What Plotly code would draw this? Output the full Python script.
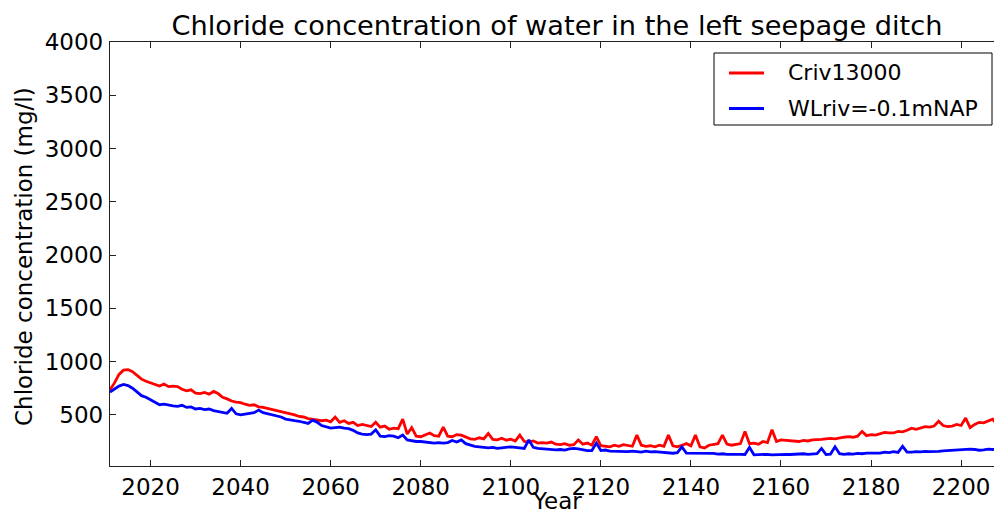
import plotly.graph_objects as go

years = list(range(2011, 2209))

criv13000 = [
    735, 800, 880, 920, 925, 905, 870, 835, 815, 800,   # 2011-2020
    790, 770, 790, 765, 770, 765, 740, 725, 735, 705,   # 2021-2030
    700, 710, 695, 720, 700, 665, 650, 630, 620, 615,   # 2031-2040
    600, 590, 595, 575, 570, 560, 555, 545, 530, 525,   # 2041-2050
    510, 500, 485, 480, 465, 460, 455, 445, 450, 435,   # 2051-2060
    480, 430, 445, 420, 430, 400, 410, 400, 390, 430,   # 2061-2070
    385, 395, 365, 375, 370, 460, 320, 380, 300, 295,   # 2071-2080
    310, 330, 305, 300, 385, 300, 295, 315, 310, 290,   # 2081-2090
    275, 270, 285, 275, 325, 270, 265, 280, 262, 272,   # 2091-2100
    255, 310, 250, 245, 255, 235, 240, 235, 245, 225,   # 2101-2110
    220, 230, 215, 220, 265, 225, 235, 215, 295, 210,   # 2111-2120
    205, 200, 215, 205, 220, 210, 205, 310, 215, 205,   # 2121-2130
    210, 200, 215, 205, 310, 210, 200, 215, 230, 210,   # 2131-2140
    310, 200, 190, 215, 220, 230, 310, 225, 215, 225,   # 2141-2150
    230, 345, 230, 235, 225, 250, 240, 360, 250, 265,   # 2151-2160
    260, 255, 250, 250, 260, 255, 265, 265, 270, 275,   # 2161-2170
    280, 275, 285, 290, 295, 290, 300, 345, 305, 315,   # 2171-2180
    310, 320, 335, 330, 330, 345, 340, 355, 375, 365,   # 2181-2190
    380, 390, 385, 395, 440, 400, 390, 395, 410, 400,   # 2191-2200
    470, 380, 410, 430, 425, 440, 460, 410,             # 2201-2208
]

wlriv = [
    715, 740, 770, 785, 775, 750, 715, 680, 665, 640,   # 2011-2020
    615, 595, 600, 590, 585, 580, 590, 570, 575, 555,   # 2021-2030
    560, 550, 555, 540, 530, 525, 515, 560, 510, 500,   # 2031-2040
    510, 515, 520, 545, 520, 510, 505, 490, 480, 460,   # 2041-2050
    450, 445, 440, 430, 420, 450, 430, 400, 390, 375,   # 2051-2060
    380, 385, 375, 370, 355, 330, 320, 315, 320, 360,   # 2061-2070
    300, 295, 305, 300, 285, 310, 265, 255, 250, 250,   # 2071-2080
    245, 240, 235, 240, 235, 240, 260, 245, 265, 230,   # 2081-2090
    215, 205, 200, 195, 190, 195, 185, 190, 195, 200,   # 2091-2100
    195, 190, 185, 265, 195, 185, 180, 178, 172, 172,   # 2101-2110
    175, 170, 180, 185, 180, 170, 165, 165, 235, 165,   # 2111-2120
    170, 160, 158, 160, 155, 155, 160, 155, 150, 160,   # 2121-2130
    152, 155, 150, 145, 145, 140, 145, 200, 140, 140,   # 2131-2140
    142, 138, 140, 135, 138, 132, 135, 130, 132, 128,   # 2141-2150
    130, 128, 195, 125, 128, 125, 130, 125, 128, 125,   # 2151-2160
    130, 128, 132, 130, 135, 130, 132, 135, 185, 128,   # 2161-2170
    132, 200, 135, 130, 135, 132, 138, 135, 140, 138,   # 2171-2180
    142, 140, 150, 145, 155, 148, 205, 150, 150, 155,   # 2181-2190
    152, 158, 155, 160, 158, 162, 165, 168, 165, 172,   # 2191-2200
    170, 178, 175, 168, 172, 178, 175, 180,             # 2201-2208
]

series_names = ["Criv13000", "WLriv=-0.1mNAP"]
series_colors = ["#ff0000", "#0000ff"]

x_ticks = [2020, 2040, 2060, 2080, 2100, 2120, 2140, 2160, 2180, 2200]
y_ticks = [500, 1000, 1500, 2000, 2500, 3000, 3500, 4000]

FONT = "DejaVu Sans"
TICK_SIZE = 23

W, H = 994, 516
L, T, B = 110, 42, 50
plot_w = W - L
plot_h = H - T - B


def px(xp):
    return (xp - L) / plot_w


def py(yp):
    return (H - B - yp) / plot_h


fig = go.Figure()
for name, vals, col in zip(series_names, [criv13000, wlriv], series_colors):
    fig.add_trace(go.Scatter(x=years, y=vals, mode="lines", name=name, showlegend=False,
                             line=dict(color=col, width=2.8)))

axis_common = dict(showgrid=False, zeroline=False, showline=True, linecolor="#222222",
                   linewidth=1.3, ticks="inside", ticklen=6, tickcolor="#222222",
                   tickfont=dict(family=FONT, size=TICK_SIZE, color="black"))

shapes = [dict(type="rect", xref="paper", yref="paper",
               x0=px(714), x1=px(992), y0=py(125), y1=py(53),
               line=dict(color="black", width=1), fillcolor="white", layer="above")]
annotations = []
for i, (name, col) in enumerate(zip(series_names, series_colors)):
    yy = 73 + i * 35.5
    shapes.append(dict(type="line", xref="paper", yref="paper",
                       x0=px(729), x1=px(764), y0=py(yy), y1=py(yy),
                       line=dict(color=col, width=2.8), layer="above"))
    annotations.append(dict(text=name, xref="paper", yref="paper",
                            x=px(786), y=py(yy), xanchor="left", yanchor="middle",
                            showarrow=False,
                            font=dict(family=FONT, size=22, color="black")))

annotations += [
    dict(text="Year", xref="paper", yref="paper",
         x=px(557), y=py(515), xanchor="center", yanchor="bottom", showarrow=False,
         borderpad=0,
         font=dict(family=FONT, size=TICK_SIZE, color="black")),
    dict(text="Chloride concentration (mg/l)", xref="paper", yref="paper",
         x=px(24), y=py(257), textangle=-90,
         xanchor="center", yanchor="middle", showarrow=False,
         font=dict(family=FONT, size=TICK_SIZE, color="black")),
]

fig.update_layout(
    width=W, height=H,
    margin=dict(l=L, r=0, t=T, b=B),
    paper_bgcolor="white", plot_bgcolor="white",
    font=dict(family=FONT, color="black"),
    title=dict(text="Chloride concentration of water in the left seepage ditch",
               x=557 / W, xref="container", xanchor="center",
               y=1 - 25 / H, yref="container", yanchor="middle",
               font=dict(family=FONT, size=27.2, color="black")),
    xaxis=dict(range=[2011, 2207.3], tickvals=x_ticks, mirror="ticks", **axis_common),
    yaxis=dict(range=[20, 4000], tickvals=y_ticks, ticklabelstandoff=1, **axis_common),
    showlegend=False,
    shapes=shapes,
    annotations=annotations,
)

fig.write_html("out.html", config={"displayModeBar": False},
               post_script="document.body.style.margin='0';")
